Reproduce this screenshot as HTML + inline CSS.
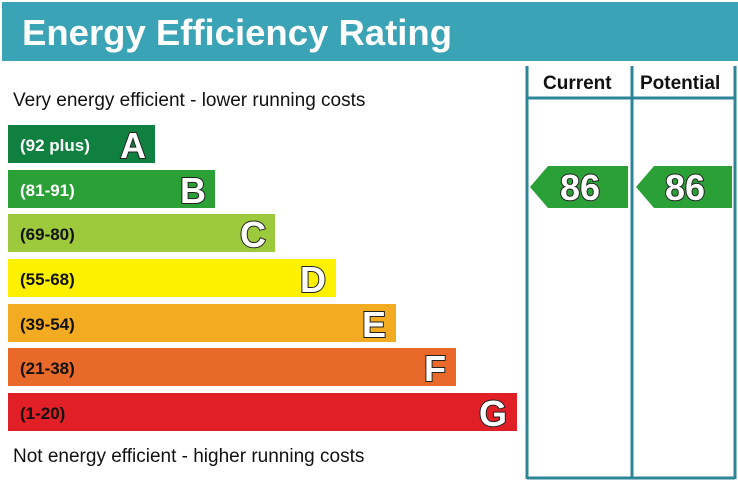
<!DOCTYPE html>
<html><head><style>body{margin:0;background:#fff}svg{display:block}</style></head><body>
<svg width="738" height="483" xmlns="http://www.w3.org/2000/svg" font-family="Liberation Sans, Arial, sans-serif">
<rect x="2" y="2" width="736" height="59" fill="#3aa3b6"/>
<text x="22" y="45" font-size="36.5" font-weight="bold" fill="#fff">Energy Efficiency Rating</text>
<g stroke="#2e8598" stroke-width="3" fill="none">
<line x1="527" y1="66" x2="527" y2="479"/>
<line x1="632" y1="66" x2="632" y2="479"/>
<line x1="735" y1="66" x2="735" y2="479"/>
<line x1="527" y1="98" x2="735" y2="98"/>
<line x1="527" y1="478" x2="735" y2="478"/>
</g>
<text x="543" y="89" font-size="19" font-weight="bold" fill="#111">Current</text>
<text x="640" y="89" font-size="19" font-weight="bold" fill="#111">Potential</text>
<text x="13" y="106" font-size="19" fill="#111">Very energy efficient - lower running costs</text>
<text x="13" y="462" font-size="19" fill="#111">Not energy efficient - higher running costs</text>
<g font-size="17" font-weight="bold" fill="#fff">
<rect x="8" y="125" width="147" height="38" fill="#108041"/><text x="20" y="151">(92 plus)</text>
<rect x="8" y="170" width="207" height="38" fill="#2aa037"/><text x="20" y="196">(81-91)</text>
<rect x="8" y="214" width="267" height="38" fill="#9dc93c"/><text x="20" y="240" fill="#111">(69-80)</text>
<rect x="8" y="259" width="328" height="38" fill="#fef100"/><text x="20" y="285" fill="#111">(55-68)</text>
<rect x="8" y="304" width="388" height="38" fill="#f3ac22"/><text x="20" y="330" fill="#111">(39-54)</text>
<rect x="8" y="348" width="448" height="38" fill="#e9692a"/><text x="20" y="374" fill="#111">(21-38)</text>
<rect x="8" y="393" width="509" height="38" fill="#e01f26"/><text x="20" y="419" fill="#111">(1-20)</text>
</g>
<g font-size="36" font-weight="bold" fill="#fff" stroke="#222" stroke-width="2" paint-order="stroke" text-anchor="end">
<text x="146" y="158">A</text>
<text x="206" y="203">B</text>
<text x="266" y="247">C</text>
<text x="326" y="292">D</text>
<text x="386" y="337">E</text>
<text x="446" y="381">F</text>
<text x="507" y="426">G</text>
</g>
<polygon points="530,187 548,166 628,166 628,208 548,208" fill="#2aa037"/>
<polygon points="636,187 654,166 732,166 732,208 654,208" fill="#2aa037"/>
<g font-size="36" font-weight="bold" fill="#fff" stroke="#222" stroke-width="2" paint-order="stroke" text-anchor="middle">
<text x="580" y="200">86</text>
<text x="685" y="200">86</text>
</g>
</svg>
</body></html>
